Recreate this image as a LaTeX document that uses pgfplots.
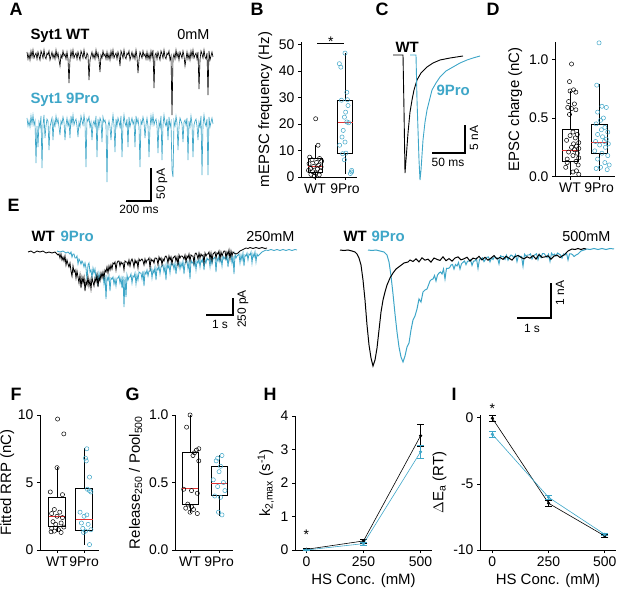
\documentclass[border=0pt]{standalone}
\usepackage{fontspec}
\setmainfont{Liberation Sans}
\usepackage{pgfplots}
\pgfplotsset{compat=1.18}
\usepgfplotslibrary{statistics}
\definecolor{cy}{RGB}{62,166,200}
\definecolor{md}{RGB}{228,52,52}
\newcommand{\tk}{\fontsize{14}{16}\selectfont}
\newcommand{\lb}{\fontsize{15}{17}\selectfont}
\newcommand{\pl}{\fontsize{18}{20}\selectfont\bfseries}
\newcommand{\tl}{\fontsize{15}{17}\selectfont\bfseries}
\newcommand{\tn}{\fontsize{14.5}{17}\selectfont}
\newcommand{\sbf}{\fontsize{12}{14}\selectfont}
\pgfplotsset{
 myax/.style={scale only axis, axis lines*=left, tick align=outside, major tick length=3bp,
   axis line style={line width=0.6pt}, every tick/.style={black, line width=0.6pt},
   tick label style={font=\tk}, label style={font=\lb},
   /pgf/number format/assume math mode=true, clip=false, anchor=south west,
   boxplot/draw direction=y},
 bx/.style={black, line width=0.6pt, solid},
 pw/.style={only marks, mark=o, mark size=2.1bp, black, mark options={line width=0.5pt}},
 pc/.style={only marks, mark=o, mark size=2.1bp, cy, mark options={line width=0.5pt}},
 onedec/.style={yticklabel style={/pgf/number format/.cd, fixed, fixed zerofill, precision=1}},
}
\begin{document}
\begin{tikzpicture}
\path[use as bounding box] (0,0) rectangle (617bp,594bp);
% ---------- overlay for traces ----------
\begin{axis}[scale only axis, width=617bp, height=594bp, at={(0bp,0bp)}, anchor=south west,
  xmin=0, xmax=617, ymin=0, ymax=594, y dir=reverse, hide axis, clip=false]
% A: 9Pro
\addplot[cy, line width=0.65pt] coordinates {(27,118)(28,126)(29,121)(30,127)(31,116)(32,124)(33,115)(34,125)(35,121)(36,163)
(37,126)(38,147)(39,122)(40,127)(41,116)(42,168)(43,125)(44,115)(45,138)(46,126)
(47,119)(48,121)(49,150)(50,127)(51,122)(52,118)(53,140)(54,121)(55,126)(56,116)
(57,123)(58,119)(59,127)(60,135)(61,121)(62,124)(63,117)(64,122)(65,140)(66,125)
(67,118)(68,126)(69,121)(70,138)(71,116)(72,124)(73,115)(74,125)(75,121)(76,119)
(77,126)(78,137)(79,122)(80,127)(81,116)(82,121)(83,125)(84,115)(85,123)(86,167)
(87,119)(88,121)(89,117)(90,127)(91,122)(92,140)(93,124)(94,121)(95,126)(96,116)
(97,157)(98,119)(99,127)(100,118)(101,121)(102,142)(103,117)(104,122)(105,120)(106,125)
(107,182)(108,126)(109,121)(110,127)(111,140)(112,124)(113,115)(114,125)(115,152)(116,119)
(117,126)(118,118)(119,122)(120,127)(121,116)(122,157)(123,125)(124,115)(125,123)(126,126)
(127,119)(128,147)(129,117)(130,127)(131,122)(132,118)(133,124)(134,121)(135,147)(136,116)
(137,123)(138,119)(139,127)(140,167)(141,121)(142,124)(143,117)(144,122)(145,138)(146,125)
(147,118)(148,126)(149,157)(150,127)(151,116)(152,124)(153,115)(154,125)(155,121)(156,119)
(157,126)(158,153)(159,122)(160,127)(161,116)(162,160)(163,125)(164,115)(165,123)(166,126)
(167,119)(168,140)(169,117)(170,127)(171,122)(172,170)(173,177)(174,121)(175,126)(176,116)
(177,123)(178,150)(179,127)(180,118)(181,121)(182,124)(183,142)(184,122)(185,120)(186,125)
(187,118)(188,160)(189,121)(190,127)(191,116)(192,124)(193,157)(194,125)(195,121)(196,119)
(197,126)(198,140)(199,122)(200,127)(201,116)(202,175)(203,125)(204,115)(205,123)(206,126)
(207,119)(208,175)(209,117)(210,127)(211,122)(212,118)(213,124)};
% A: WT
\addplot[black, line width=0.65pt] coordinates {(27,52)(28,59)(29,54)(30,60)(31,51)(32,57)(33,50)(34,58)(35,55)(36,53)
(37,59)(38,52)(39,56)(40,60)(41,51)(42,54)(43,58)(44,50)(45,57)(46,59)
(47,53)(48,55)(49,51)(50,60)(51,56)(52,52)(53,58)(54,54)(55,59)(56,50)
(57,57)(58,53)(59,60)(60,66)(61,55)(62,58)(63,51)(64,56)(65,54)(66,59)
(67,52)(68,59)(69,83)(70,60)(71,51)(72,57)(73,50)(74,58)(75,55)(76,53)
(77,59)(78,52)(79,56)(80,60)(81,51)(82,54)(83,58)(84,50)(85,57)(86,59)
(87,53)(88,55)(89,80)(90,60)(91,56)(92,52)(93,58)(94,54)(95,59)(96,50)
(97,57)(98,53)(99,60)(100,72)(101,55)(102,58)(103,51)(104,56)(105,54)(106,59)
(107,52)(108,59)(109,54)(110,60)(111,51)(112,57)(113,50)(114,58)(115,55)(116,53)
(117,59)(118,52)(119,56)(120,66)(121,51)(122,54)(123,58)(124,50)(125,57)(126,59)
(127,53)(128,55)(129,51)(130,60)(131,56)(132,52)(133,58)(134,54)(135,59)(136,50)
(137,57)(138,73)(139,60)(140,52)(141,55)(142,58)(143,51)(144,56)(145,54)(146,59)
(147,52)(148,59)(149,54)(150,60)(151,51)(152,57)(153,50)(154,88)(155,55)(156,53)
(157,59)(158,52)(159,56)(160,60)(161,51)(162,54)(163,58)(164,50)(165,57)(166,59)
(167,53)(168,55)(169,51)(170,60)(171,56)(172,115)(173,58)(174,54)(175,59)(176,50)
(177,57)(178,53)(179,60)(180,52)(181,55)(182,58)(183,51)(184,56)(185,66)(186,59)
(187,52)(188,59)(189,54)(190,60)(191,51)(192,57)(193,50)(194,58)(195,55)(196,53)
(197,59)(198,52)(199,89)(200,60)(201,51)(202,54)(203,58)(204,50)(205,57)(206,59)
(207,53)(208,95)(209,51)(210,60)(211,56)(212,52)(213,57)};
\node[font=\tl, anchor=base west] at (axis cs:27,40) {Syt1 WT};
\node[font=\tn, anchor=base east] at (axis cs:213,40) {0mM};
\node[font=\tl, anchor=base west, text=cy] at (axis cs:27,104) {Syt1 9Pro};
\draw[line width=2bp] (axis cs:126,201) -- (axis cs:151,201) -- (axis cs:151,168);
\node[font=\sbf, anchor=base] at (axis cs:139,214) {200 ms};
\node[font=\sbf, rotate=90] at (axis cs:162,184) {50 pA};
% C
\addplot[black, line width=0.9pt] coordinates {(393,55)(403,55)(404,110)(405,173)(406,160)(408,133)(410,112)(412,100)(414,90)(417,80)(421,73)(427,67)(433,63)(440,60)(450,58)(463,56)};
\addplot[cy, line width=0.9pt] coordinates {(410,55)(416,55)(417,100)(419,160)(420,180)(421,170)(423,140)(425,122)(427,110)(430,98)(432,90)(436,83)(440,77)(446,71)(453,67)(460,63)(467,60)(473,58)(480,56)};
\node[font=\tl, anchor=base west] at (axis cs:392,53) {WT};
\node[font=\tl, anchor=base west, text=cy] at (axis cs:433,96) {9Pro};
\draw[line width=2bp] (axis cs:432,153) -- (axis cs:465,153) -- (axis cs:465,125);
\node[font=\sbf, anchor=base] at (axis cs:448,167) {50 ms};
\node[font=\sbf, rotate=90] at (axis cs:474,138) {5 nA};
% E left: 9Pro
\addplot[cy, line width=0.8pt] coordinates {(57,251)(60,252)(63,251)(66,253)(68,252)(70,254)(71,252)(72,257)(73,254)(74,254)(75,258)(76,258)(77,256)(78,264)(79,259)(80,261)(81,264)(82,261)(83,263)(84,267)(85,263)(86,268)(87,280)(88,265)(89,263)(90,272)(91,270)(92,278)(93,268)(94,273)(95,269)(96,279)(97,274)(98,286)(99,273)(100,279)(101,275)
(102,274)(103,274)(104,284)(105,275)(106,299)(107,277)(108,280)(109,276)(110,291)(111,278)(112,279)(113,277)(114,284)(115,279)(116,286)(117,278)(118,278)(119,276)(120,283)(121,278)(122,288)(123,276)(124,307)(125,277)(126,297)(127,275)(128,280)(129,277)(130,277)(131,274)(132,283)(133,276)(134,277)(135,273)(136,284)(137,275)(138,280)(139,272)(140,273)(141,273)(142,279)(143,271)(144,286)(145,272)(146,274)(147,270)(148,276)(149,271)(150,271)(151,268)(152,278)(153,270)(154,273)(155,267)(156,280)(157,268)(158,270)(159,266)(160,274)(161,267)(162,266)(163,265)(164,272)(165,266)(166,280)(167,264)(168,268)(169,265)(170,273)(171,263)(172,265)(173,264)(174,269)(175,263)(176,274)(177,264)(178,265)(179,262)(180,269)(181,263)(182,267)(183,261)(184,274)(185,263)(186,262)(187,261)(188,269)(189,262)(190,279)(191,260)(192,263)(193,262)(194,266)(195,260)(196,270)(197,261)(198,263)(199,259)(200,267)(201,260)(202,262)(203,258)(204,270)(205,260)(206,263)(207,258)(208,260)(209,259)(210,267)(211,257)(212,264)(213,259)(214,258)(215,257)(216,272)(217,258)(218,261)(219,256)(220,262)(221,258)(222,266)(223,256)(224,259)(225,257)(226,260)(227,255)(228,267)(229,257)(230,257)(231,255)(232,263)(233,256)(234,274)(235,254)(236,258)(237,256)(238,255)(239,254)(240,263)(241,255)(242,260)(243,253)(244,266)(245,255)(246,256)(247,253)(248,260)(249,254)(250,255)(251,252)(252,263)(253,254)(254,257)(255,252)(256,262)(257,254)(258,256)(260,254)(262,252)(264,251)(266,250)
(268,250.5)(271,249.5)(274,250.5)(277,249.5)(280,250.5)(283,249.5)(286,250.5)(289,249.5)(292,250.5)(295,249.5)(297,250)};
% E left: WT
\addplot[black, line width=0.8pt] coordinates {(28,252)(31,251)(34,253)(37,251)(40,252)(43,251)(46,253)(49,252)(52,253)(55,252)
(58,255)(59,254)(60,258)(61,254)(62,260)(63,257)(64,261)(65,256)(66,265)(67,260)(68,264)(69,267)(70,263)(71,271)(72,276)(73,266)(74,272)(75,270)(76,278)(77,271)(78,277)(79,283)(80,275)(81,288)(82,277)(83,283)(84,277)(85,291)(86,281)(87,285)(88,277)(89,286)(90,280)(91,289)(92,278)(93,282)(94,286)(95,278)(96,282)(97,275)(98,287)(99,277)(100,281)(101,273)(102,278)(103,272)(104,278)(105,270)(106,272)(107,267)(108,273)(109,266)(110,270)(111,265)
(112,269)(113,263)(114,264)(115,262)(116,270)(117,263)(118,261)(119,261)(120,266)(121,262)(122,264)(123,263)(124,270)(125,261)(126,262)(127,262)(128,265)(129,260)(130,266)(131,261)(132,259)(133,262)(134,267)(135,260)(136,263)(137,261)(138,268)(139,259)(140,261)(141,260)(142,259)(143,261)(144,265)(145,259)(146,263)(147,260)(148,260)(149,258)(150,268)(151,259)(152,261)(153,260)(154,263)(155,258)(156,258)(157,259)(158,265)(159,257)(160,260)(161,258)(162,265)(163,259)(164,261)(165,257)(166,256)(167,258)(168,263)(169,256)(170,260)(171,257)(172,264)(173,258)(174,257)(175,256)(176,261)(177,257)(178,265)(179,255)(180,258)(181,256)(182,256)(183,257)(184,259)(185,255)(186,262)(187,256)(188,258)(189,254)(190,261)(191,255)(192,256)(193,256)(194,263)(195,254)(196,253)(197,255)(198,259)(199,253)(200,258)(201,254)(202,256)(203,255)(204,263)(205,253)(206,256)(207,254)(208,254)(209,252)(210,259)(211,253)(212,261)(213,254)(214,253)(215,252)(216,258)(217,253)(218,254)(219,251)(220,259)(221,252)(222,256)(223,253)(224,251)(225,251)(226,258)(227,252)(228,255)(229,250)(230,259)(231,251)(232,256)(233,252)(234,253)
(236,254)(238,253)(240,251)(242,250)(244,249)(246,248)(248,248.5)(250,247.5)(253,248.5)(256,247.5)(259,248.5)(262,247.5)(265,248.5)(267,248)};
\node[font=\tl, anchor=base west] at (axis cs:28,242) {WT};
\node[font=\tl, anchor=base west, text=cy] at (axis cs:57,242) {9Pro};
\node[font=\tn, anchor=base east] at (axis cs:298,242) {250mM};
\draw[line width=2bp] (axis cs:206,315) -- (axis cs:233,315) -- (axis cs:233,298);
\node[font=\sbf, anchor=base] at (axis cs:220,328) {1 s};
\node[font=\sbf, rotate=90] at (axis cs:243,309) {250 pA};
% E right: 9Pro
\addplot[cy, line width=1pt] coordinates {(368,250)(372,250.5)(376,250)(380,251)(384,252)(387,255)(389,262)(391,276)(393,294)(395,314)(397,332)(399,347)(401,357)(403,362)
(405,356)(407,347)(409,343)(411,330)(413,320)(415,316)(417,309)(419,299)(421,302)(423,292)(425,290)(427,289)(430,281)(431.5,279.5)(433,279)(434.5,275.5)(436,281)(437.5,275)(439,273)(440.5,272)(442,274)(443.5,269)(445,279)(446.5,268.3)(448,268.5)(449.5,267.8)(451,265)(452.5,264.5)(454,269)(455.5,264.5)(457,266)(458.5,262.5)(460,269)(461.5,263.7)(463,262.3)(464.5,261)(466,264.6)(467.5,261.3)(469,261)(470.5,259.7)(472,265.4)(473.5,261.2)(475,260.9)(476.5,258.7)(478,268.4)(479.5,259.2)(481,259)(482.5,257.8)(484,261.6)(485.5,259.4)(487,257.2)(488.5,257)(490,261.8)(491.5,257.7)(493,259.5)(494.5,256.3)(496,258.2)(497.5,258)(499,263.9)(500.5,255.8)(502,256.6)(503.5,256.5)(505,259.4)(506.5,255.3)(508,260.2)(509.5,257.1)(511,255)(512.5,255.9)(514,257.8)(515.5,254.7)(517,261.6)(518.5,255.5)(520,256.4)(521.5,256.3)(523,266.2)(524.5,254.2)(526,256.1)(527.5,255)(529,255)(530.5,253.9)(532,258.9)(533.5,255.8)(535,254.8)(536.5,253.7)(538,259.7)(539.5,254.6)(541,257.6)(542.5,253.5)(544,253.5)(545.5,255.4)(547,257.4)(548.5,254.3)(550,261.3)(551.5,253.2)(553,255.2)(554.5,254.1)(556,256.1)(557.5,253)(559,254)(560.5,255)(562,258)(563.5,254)(565,255)(566.5,253)(568,260)(569.5,253.9)(571,253.8)(572.5,254.6)(574,256.5)
(576,255)(578,254)(581,251)(584,250)(587,249)(590,249.5)(594,248.5)(598,249.5)(602,248.5)(606,249.5)(610,248.5)(614,249)};
% E right: WT
\addplot[black, line width=1pt] coordinates {(340,250)(344,250.5)(348,250)(352,251)(355,252)(357,254)(359,258)(361,265)(363,280)(365,300)(367,325)(369,345)(371,358)(373,366)(375,360)(377,348)(379,330)(381,312)(383,300)(385,292)(387,285)(390,278)(393,273)(396,269)(400,266)(404,263)(408,262)(410,260)
(413,261.5)(416,258.9)(419,261.9)(422,257.8)(425,260.2)(428,259.1)(431,262.1)(434,258)(437,259.4)(440,260.4)(443,256.8)(446,260.7)(449,258.6)(452,261.1)(455,258)(458,256.9)(461,259.9)(464,258.8)(467,257.2)(470,261.1)(473,258.1)(476,259)(479,256.4)(482,259.9)(485,257.3)(488,260.2)(491,258.1)(494,255.6)(497,259)(500,257.4)(503,259.4)(506,256.3)(509,258.2)(512,260.1)(515,256.6)(518,255.5)(521,257.4)(524,258.9)(527,256.8)(530,258.2)(533,255.6)(536,259.1)(539,254.5)(542,257.4)(545,256.9)(548,255.8)(551,259.2)(554,256.1)(557,255.1)(560,257.5)
(562,256)(564,255)(566,253)(568,251)(570,250)(572,249)(575,249.5)(578,248.5)(581,249.5)(584,248.5)(586,249)};
\node[font=\tl, anchor=base west] at (axis cs:340,242) {WT};
\node[font=\tl, anchor=base west, text=cy] at (axis cs:368,242) {9Pro};
\node[font=\tn, anchor=base east] at (axis cs:614,242) {500mM};
\draw[line width=2bp] (axis cs:517,318) -- (axis cs:551,318) -- (axis cs:551,283);
\node[font=\sbf, anchor=base] at (axis cs:532,332) {1 s};
\node[font=\sbf, rotate=90] at (axis cs:560,293) {1 nA};
% panel letters
\node[font=\pl, anchor=base west] at (axis cs:6,16) {A};
\node[font=\pl, anchor=base west] at (axis cs:247,16) {B};
\node[font=\pl, anchor=base west] at (axis cs:372,16) {C};
\node[font=\pl, anchor=base west] at (axis cs:483,16) {D};
\node[font=\pl, anchor=base west] at (axis cs:4,212) {E};
\node[font=\pl, anchor=base west] at (axis cs:7,400) {F};
\node[font=\pl, anchor=base west] at (axis cs:122,400) {G};
\node[font=\pl, anchor=base west] at (axis cs:260,400) {H};
\node[font=\pl, anchor=base west] at (axis cs:448,400) {I};
\end{axis}
% ---------- B ----------
\begin{axis}[myax, width=56bp, height=135bp, at={(301bp,417bp)},
  xmin=0.53, xmax=2.4, ymin=0, ymax=51, xtick={1,2}, xticklabels={WT,9Pro},
  ytick={0,10,20,30,40,50}, ylabel={mEPSC frequency (Hz)}]
\addplot[bx, boxplot prepared={draw position=1, lower whisker=0, lower quartile=1.9, median=3.8, upper quartile=6.9, upper whisker=12, box extend=0.45, whisker extend=0, every median/.style={md, line width=1pt}}] coordinates {};
\addplot[bx, boxplot prepared={draw position=2, lower whisker=1.2, lower quartile=9, median=20.5, upper quartile=29, upper whisker=46.8, box extend=0.5, whisker extend=0, every median/.style={md, line width=1pt}}] coordinates {};
\addplot[pw] coordinates {(1.02,22)(1.1,12)(0.82,7.5)(1.15,7)(0.9,6.5)(1.22,6)(1.05,5.5)(0.8,5)(1.12,4.5)(0.95,4)(1.2,3.8)(0.85,3.2)(1.08,3)(0.78,2.5)(1.18,2.2)(0.92,2)(1.02,1.5)(0.86,1)(1.14,0.8)(0.98,0.3)};
\addplot[pc] coordinates {(2.0,46.8)(1.81,42.8)(1.86,41.5)(2.06,32)(1.88,29)(2.08,29.2)(2.1,27)(2.02,24.5)(1.98,22.6)(2.06,20.8)(2.12,20.5)(1.94,17.6)(1.9,15.1)(2.0,13.2)(1.82,12)(2.03,9)(1.92,8.8)(1.98,6.5)(2.22,2.5)(2.22,1.9)(2.18,1.3)};
\draw[line width=0.7pt] (axis cs:1.07,50.5) -- (axis cs:1.97,50.5);
\node[font=\tk, inner sep=0pt] at (axis cs:1.53,51.2) {*};
\end{axis}
% ---------- D ----------
\begin{axis}[myax, onedec, width=60bp, height=135bp, at={(555bp,417.3bp)},
  xmin=0.48, xmax=2.55, ymin=0, ymax=1.15, xtick={1,2}, xticklabels={WT,9Pro},
  ytick={0,0.5,1}, ylabel={EPSC charge (nC)}]
\addplot[bx, boxplot prepared={draw position=1, lower whisker=0.015, lower quartile=0.134, median=0.227, upper quartile=0.40, upper whisker=0.73, box extend=0.55, whisker extend=0, every median/.style={md, line width=1pt}}] coordinates {};
\addplot[bx, boxplot prepared={draw position=2, lower whisker=0.05, lower quartile=0.2, median=0.29, upper quartile=0.446, upper whisker=0.787, box extend=0.55, whisker extend=0, every median/.style={md, line width=1pt}}] coordinates {};
\addplot[pw] coordinates {(1.05,0.96)(0.98,0.81)(1.12,0.74)(1.0,0.73)(1.2,0.72)(0.95,0.64)(1.15,0.62)(0.92,0.59)(1.05,0.58)(1.2,0.57)(0.98,0.53)(1.1,0.38)(1.25,0.36)(1.0,0.35)(1.18,0.33)(0.88,0.31)(1.3,0.29)(1.12,0.28)(1.22,0.26)(1.05,0.25)(1.3,0.24)(1.15,0.23)(0.95,0.21)(1.25,0.2)(1.1,0.18)(1.3,0.16)(0.9,0.15)(1.2,0.13)(0.9,0.12)(1.28,0.1)(0.85,0.08)(1.22,0.05)(1.1,0.04)(1.3,0.02)};
\addplot[pc] coordinates {(2.0,1.14)(1.92,0.78)(2.1,0.6)(2.25,0.59)(1.95,0.55)(2.15,0.5)(2.05,0.48)(1.9,0.45)(2.2,0.42)(2.08,0.4)(2.3,0.38)(1.95,0.36)(2.12,0.34)(2.25,0.32)(1.88,0.3)(2.18,0.3)(2.32,0.28)(2.02,0.27)(2.22,0.25)(1.85,0.22)(2.1,0.2)(2.3,0.18)(1.95,0.15)(2.2,0.12)(2.35,0.1)(2.05,0.08)(1.9,0.07)(2.28,0.06)};
\end{axis}
% ---------- F ----------
\begin{axis}[myax, width=59bp, height=135bp, at={(40bp,44bp)},
  xmin=0.37, xmax=2.55, ymin=0, ymax=10, xtick={1,2}, xticklabels={WT,9Pro},
  ytick={0,5,10}, ylabel={Fitted RRP (nC)}, ylabel shift=-3bp]
\addplot[bx, boxplot prepared={draw position=1, lower whisker=1.3, lower quartile=1.73, median=2.47, upper quartile=3.9, upper whisker=6.17, box extend=0.62, whisker extend=0, every median/.style={md, line width=1pt}}] coordinates {};
\addplot[bx, boxplot prepared={draw position=2, lower whisker=0.37, lower quartile=1.43, median=2.27, upper quartile=4.6, upper whisker=7.58, box extend=0.62, whisker extend=0, every median/.style={md, line width=1pt}}] coordinates {};
\addplot[pw] coordinates {(1.02,9.7)(1.25,8.6)(1.0,6.1)(0.75,4.3)(1.2,4.1)(0.9,3.0)(1.1,2.8)(0.8,2.7)(1.0,2.5)(1.2,2.4)(0.85,2.1)(1.15,2.0)(0.95,1.9)(1.25,1.7)(0.8,1.6)(1.05,1.5)(0.9,1.4)(1.15,1.3)(0.78,1.35)};
\addplot[pc] coordinates {(2.1,7.5)(2.05,6.8)(2.08,6.6)(2.2,5.4)(2.12,4.5)(2.2,4.4)(2.25,4.3)(1.85,2.8)(2.1,2.6)(2.0,2.5)(1.9,2.0)(2.15,1.9)(1.95,1.6)(2.25,1.5)(2.05,1.4)(1.98,1.3)(2.2,0.4)};
\end{axis}
% ---------- G ----------
\begin{axis}[myax, onedec, width=58bp, height=135bp, at={(175bp,44bp)},
  xmin=0.48, xmax=2.48, ymin=0, ymax=1, xtick={1,2}, xticklabels={WT,9Pro},
  ytick={0,0.5,1}, ylabel={Release\textsubscript{250} / Pool\textsubscript{500}}]
\addplot[bx, boxplot prepared={draw position=1, lower whisker=0.276, lower quartile=0.34, median=0.456, upper quartile=0.72, upper whisker=1.0, box extend=0.55, whisker extend=0, every median/.style={md, line width=1pt}}] coordinates {};
\addplot[bx, boxplot prepared={draw position=2, lower whisker=0.254, lower quartile=0.405, median=0.494, upper quartile=0.617, upper whisker=0.70, box extend=0.55, whisker extend=0, every median/.style={md, line width=1pt}}] coordinates {};
\addplot[pw] coordinates {(1.0,1.0)(0.88,0.91)(1.3,0.75)(1.22,0.74)(1.15,0.72)(1.1,0.70)(1.3,0.66)(0.78,0.45)(1.05,0.44)(1.25,0.42)(0.92,0.34)(1.05,0.32)(0.85,0.31)(1.12,0.30)(1.0,0.28)(1.25,0.27)};
\addplot[pc] coordinates {(2.1,0.70)(1.95,0.68)(1.9,0.66)(2.05,0.62)(2.0,0.58)(1.8,0.52)(2.15,0.50)(1.95,0.47)(2.2,0.44)(1.85,0.40)(2.05,0.39)(1.98,0.28)(2.1,0.26)};
\end{axis}
% ---------- H ----------
\begin{axis}[myax, width=137bp, height=134bp, at={(295bp,44bp)},
  xmin=-50, xmax=550, ymin=0, ymax=4, xtick={0,250,500}, ytick={0,1,2,3,4},
  xlabel={HS Conc. (mM)}, ylabel={k\textsubscript{2,max} (s\textsuperscript{-1})}]
\addplot[black, line width=0.6pt, mark=*, mark size=1.3bp, error bars/.cd, y dir=both, y explicit,
  error bar style={line width=0.8pt}, error mark options={rotate=90, line width=0.8pt, mark size=3.5bp}]
  coordinates {(0,0.02) +- (0,0.02) (250,0.27) +- (0,0.06) (500,3.41) +- (0,0.33)};
\addplot[cy, line width=0.6pt, mark=*, mark size=1.3bp, error bars/.cd, y dir=both, y explicit,
  error bar style={line width=0.8pt}, error mark options={rotate=90, line width=0.8pt, mark size=3.5bp}]
  coordinates {(0,0.0) +- (0,0.01) (250,0.19) +- (0,0.05) (500,2.93) +- (0,0.19)};
\node[font=\tk, inner sep=0pt] at (axis cs:0,0.45) {*};
\end{axis}
% ---------- I ----------
\begin{axis}[myax, width=136bp, height=135bp, at={(480bp,44bp)},
  xmin=-55, xmax=550, ymin=-10, ymax=0.2, xtick={0,250,500}, ytick={-10,-5,0},
  xlabel={HS Conc. (mM)}, ylabel={$\Delta$E\textsubscript{a} (RT)}]
\addplot[black, line width=0.6pt, mark=*, mark size=1.3bp, error bars/.cd, y dir=both, y explicit,
  error bar style={line width=0.8pt}, error mark options={rotate=90, line width=0.8pt, mark size=3.5bp}]
  coordinates {(0,-0.05) +- (0,0.2) (250,-6.47) +- (0,0.2) (500,-8.94) +- (0,0.1)};
\addplot[cy, line width=0.6pt, mark=*, mark size=1.3bp, error bars/.cd, y dir=both, y explicit,
  error bar style={line width=0.8pt}, error mark options={rotate=90, line width=0.8pt, mark size=3.5bp}]
  coordinates {(0,-1.26) +- (0,0.2) (250,-6.02) +- (0,0.15) (500,-8.82) +- (0,0.1)};
\node[font=\tk, inner sep=0pt] at (axis cs:0,0.7) {*};
\end{axis}
\end{tikzpicture}
\end{document}
